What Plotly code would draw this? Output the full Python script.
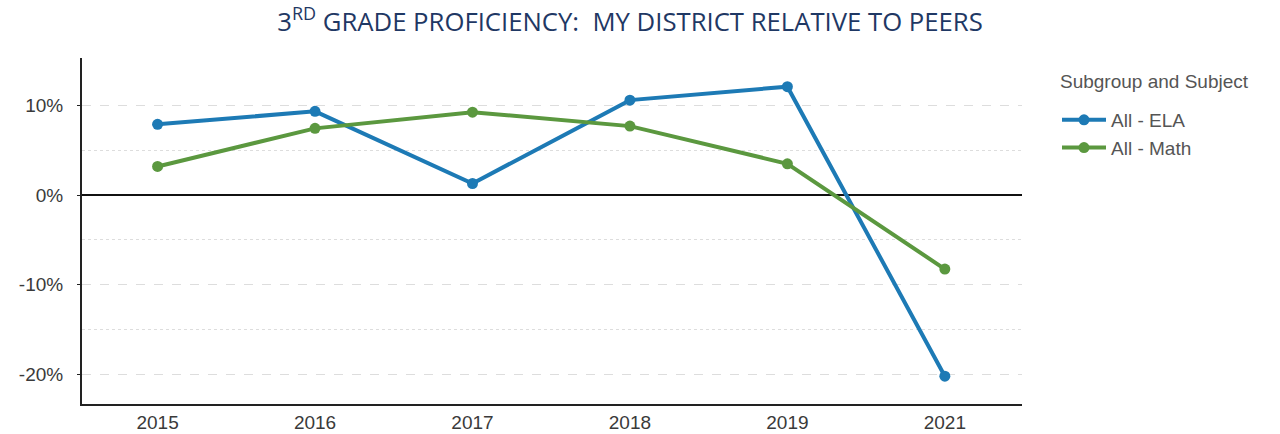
import plotly.graph_objects as go

years = ["2015", "2016", "2017", "2018", "2019", "2021"]
ela = [7.9, 9.35, 1.3, 10.6, 12.1, -20.2]
math = [3.2, 7.45, 9.25, 7.7, 3.5, -8.25]
y_ticks = [-20, -10, 0, 10]
y_tick_labels = ["-20%", "-10%", "0%", "10%"]
legend_title = "Subgroup and Subject"

BLUE = "#1d7ab5"
GREEN = "#5b983f"
tick_font = dict(family="Liberation Sans, Arial, sans-serif", size=19, color="#3a3a3a")
legend_font = dict(family="Liberation Sans, Arial, sans-serif", size=19, color="#555555")

T, B = 58, 30
PH = 434 - T - B

fig = go.Figure()
fig.add_trace(go.Scatter(x=years, y=ela, name="All - ELA", mode="lines+markers",
                         line=dict(color=BLUE, width=4), marker=dict(color=BLUE, size=11)))
fig.add_trace(go.Scatter(x=years, y=math, name="All - Math", mode="lines+markers",
                         line=dict(color=GREEN, width=4), marker=dict(color=GREEN, size=11)))

fig.update_layout(
    width=1280, height=434,
    margin=dict(l=82, r=258, t=T, b=B, autoexpand=False),
    paper_bgcolor="white", plot_bgcolor="white",
    title=dict(text="3<sup>RD</sup> GRADE PROFICIENCY:  MY DISTRICT RELATIVE TO PEERS",
               x=630 / 1280, xanchor="center", xref="container",
               y=1 - 22 / 434, yanchor="middle", yref="container",
               font=dict(family="Open Sans, Noto Sans, sans-serif", size=25.7, color="#1f3864")),
    legend=dict(x=(1057 - 82) / 940, y=(434 - B - 101) / PH, xanchor="left", yanchor="top",
                font=legend_font, tracegroupgap=0, itemwidth=44),
    showlegend=True,
    annotations=[dict(text=legend_title, xref="paper", yref="paper",
                      x=(1058 - 82) / 940, y=(434 - B - 82) / PH,
                      xanchor="left", yanchor="middle", showarrow=False, font=legend_font)],
)
fig.update_xaxes(type="category", range=[-0.48, 5.49], showline=True, linecolor="#222222",
                 linewidth=2, showgrid=False, ticks="", tickfont=tick_font, automargin=False)
fig.update_yaxes(range=[-23.3, 15.3], tickvals=y_ticks, ticktext=y_tick_labels,
                 showline=True, linecolor="#222222", linewidth=2, automargin=False,
                 ticks="outside", ticklen=3, tickcolor="#222222", tickfont=tick_font,
                 ticklabelstandoff=10,
                 showgrid=True, gridcolor="#dddddd", griddash="dash", gridwidth=1,
                 minor=dict(tickvals=[-15, -5, 5], showgrid=True, gridcolor="#dddddd",
                            griddash="dot", gridwidth=1, ticks=""),
                 zeroline=True, zerolinecolor="#111111", zerolinewidth=1.5)

fig.write_html("out.html", config={"displayModeBar": False},
               post_script="document.body.style.margin='0';document.body.style.overflow='hidden';")
